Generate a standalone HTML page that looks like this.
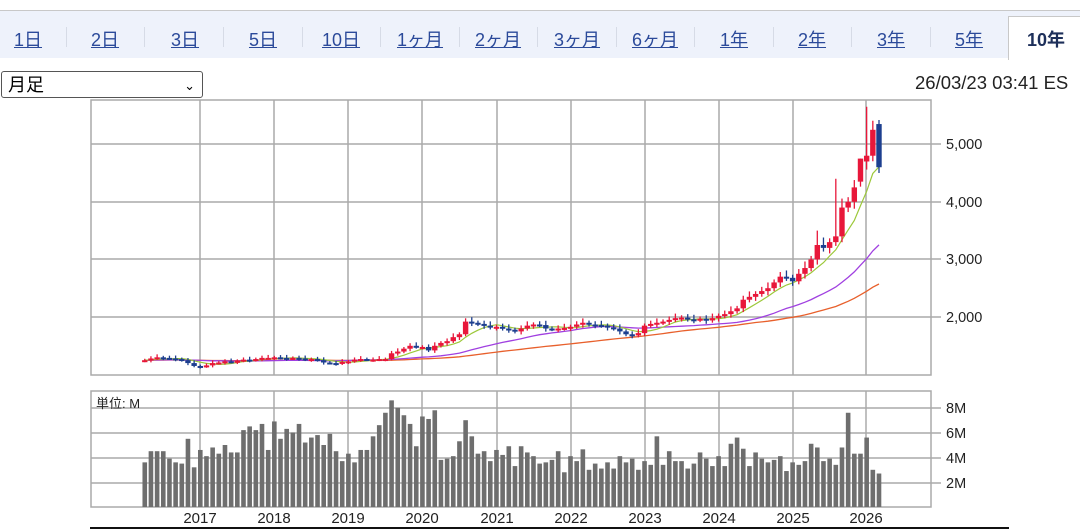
<!DOCTYPE html>
<html><head><meta charset="utf-8"><style>
body{margin:0;width:1080px;height:530px;overflow:hidden;background:#fff;font-family:"Liberation Sans","Noto Sans CJK JP",sans-serif;position:relative}
.bar{position:absolute;left:0;top:10px;width:1080px;height:47px;background:#eef2fb;border-top:1px solid #c8c8c8}
.t{position:absolute;top:15px;font-size:18px;color:#2b4a9a;text-decoration:underline;transform:translateX(-50%);white-space:nowrap}
.sep{position:absolute;top:16px;width:1px;height:20px;background:#d6dbe6}
.sel{position:absolute;left:1008px;top:5px;width:80px;height:43px;background:#fff;border:1px solid #c8c8c8;border-bottom:none}
.selbox{position:absolute;left:1px;top:71px;width:202px;height:27px;border:1px solid #555;border-radius:3px;font-size:18px;line-height:27px;padding-left:6px;box-sizing:border-box}
.date{position:absolute;left:915px;top:72px;font-size:18.5px;color:#222;white-space:nowrap}
svg{position:absolute;left:0;top:0}
</style></head><body>
<div class="bar">
<div class="sel"></div>
<div class="t" style="left:28px">1日</div><div class="t" style="left:105px">2日</div><div class="t" style="left:185px">3日</div><div class="t" style="left:263px">5日</div><div class="t" style="left:341px">10日</div><div class="t" style="left:420px">1ヶ月</div><div class="t" style="left:498px">2ヶ月</div><div class="t" style="left:577px">3ヶ月</div><div class="t" style="left:655px">6ヶ月</div><div class="t" style="left:734px">1年</div><div class="t" style="left:812px">2年</div><div class="t" style="left:891px">3年</div><div class="t" style="left:969px">5年</div>
<div class="t" style="left:1046px;text-decoration:none;font-weight:bold;color:#1d2f5a">10年</div>
<div class="sep" style="left:66px"></div><div class="sep" style="left:144px"></div><div class="sep" style="left:223px"></div><div class="sep" style="left:302px"></div><div class="sep" style="left:380px"></div><div class="sep" style="left:459px"></div><div class="sep" style="left:537px"></div><div class="sep" style="left:616px"></div><div class="sep" style="left:694px"></div><div class="sep" style="left:773px"></div><div class="sep" style="left:851px"></div><div class="sep" style="left:930px"></div>
</div>
<div class="selbox">月足<span style="position:absolute;right:7px;top:0;font-size:13px">&#8964;</span></div>
<div class="date">26/03/23 03:41 ES</div>
<svg id="s" width="1080" height="530" xmlns="http://www.w3.org/2000/svg" font-family="Liberation Sans, DejaVu Sans, sans-serif"></svg>
<script>
var s=document.getElementById('s'),h='';
var gx=[200,274,348,422,497,571,645,719,793,866],yrs=[2017,2018,2019,2020,2021,2022,2023,2024,2025,2026];
h+='<rect x="91" y="100" width="840" height="275" fill="none" stroke="#aaa" stroke-width="1.5"/>';
h+='<rect x="91" y="391" width="840" height="116" fill="none" stroke="#aaa" stroke-width="1.5"/>';
gx.forEach(function(x,i){h+='<line x1="'+x+'" y1="100" x2="'+x+'" y2="375" stroke="#aaa" stroke-width="1.5"/><line x1="'+x+'" y1="391" x2="'+x+'" y2="507" stroke="#aaa" stroke-width="1.5"/><text x="'+x+'" y="523" font-size="15" fill="#222" text-anchor="middle">'+yrs[i]+'</text>';});
[[144,'5,000'],[202,'4,000'],[259,'3,000'],[317,'2,000']].forEach(function(a){h+='<line x1="91" y1="'+a[0]+'" x2="941" y2="'+a[0]+'" stroke="#aaa" stroke-width="1.5"/><text x="946" y="'+(a[0]+5)+'" font-size="14.5" fill="#222">'+a[1]+'</text>';});
[[408,'8M'],[433,'6M'],[458,'4M'],[483,'2M']].forEach(function(a){h+='<line x1="91" y1="'+a[0]+'" x2="941" y2="'+a[0]+'" stroke="#aaa" stroke-width="1.5"/><text x="946" y="'+(a[0]+5)+'" font-size="14.5" fill="#222">'+a[1]+'</text>';});
h+='<text x="96" y="408" font-size="13" fill="#222">単位: M</text>';
h+='<line x1="90" y1="528" x2="1009" y2="528" stroke="#111" stroke-width="2"/>';
var c=[1250,1280,1300,1290,1280,1270,1250,1200,1150,
1140,1160,1200,1210,1230,1220,1240,1260,1250,1270,1290,1290,
1300,1290,1280,1290,1280,1260,1270,1250,1210,1200,1190,1220,
1230,1260,1270,1260,1260,1270,1270,1370,1400,1450,1500,1480,
1480,1420,1500,1550,1580,1650,1700,1920,1900,1880,1850,1820,
1830,1800,1780,1750,1800,1850,1870,1860,1800,1790,1800,1810,
1830,1870,1900,1870,1860,1850,1820,1800,1750,1700,1680,1720,
1850,1880,1900,1920,1950,1980,1990,1960,1950,1970,1940,1980,
2020,2050,2100,2150,2300,2350,2400,2450,2500,2600,2700,2680,
2620,2750,2850,3000,3250,3200,3300,3400,3900,4000,4250,4750,
4800,5250,4600];
var v=[3.6,4.5,4.5,4.5,3.9,3.6,3.5,5.5,3.2,4.6,4.1,4.8,4.3,5.0,4.4,4.4,6.2,6.5,6.2,6.7,4.6,6.9,5.5,6.3,6.0,6.7,5.2,5.6,5.8,5.0,5.9,4.5,3.7,4.3,3.6,4.6,4.6,5.7,6.6,7.6,8.6,8.0,7.4,6.7,4.9,7.3,7.1,7.8,3.8,3.9,4.1,5.3,7.0,5.7,4.3,4.5,3.7,4.6,4.2,4.9,3.3,4.9,4.4,4.1,3.5,3.6,3.8,4.5,2.8,4.1,3.7,
4.65,3.0,3.5,3.1,3.6,3.1,4.1,3.6,3.9,3.0,3.7,3.4,5.7,3.4,4.5,3.7,3.7,3.1,3.5,4.4,3.9,3.3,4.1,3.3,5.1,5.6,4.7,3.3,4.4,3.9,3.6,3.8,4.1,2.9,3.6,3.4,3.7,5.1,4.8,3.7,3.9,3.4,4.8,7.6,4.3,4.3,5.6,3.0,2.7];
while(v.length<120)v.splice(70,0,4.0);
function X(i){return 879-(119-i)*6.17;}
function Y(p){return 317-(p-2000)*0.0576;}
for(var i=0;i<120;i++){var x=X(i),bh=v[i]*12.4;h+='<rect x="'+(x-2.3)+'" y="'+(507-bh)+'" width="4.6" height="'+bh+'" fill="#6e6e6e"/>';}
function ma(n){var pts=[];for(var i=0;i<120;i++){var s2=0;for(var k=i-n+1;k<=i;k++)s2+=(k<0?1250:c[k]);pts.push(X(i).toFixed(1)+','+Y(s2/n).toFixed(1));}return pts.join(' ');}
h+='<polyline points="'+ma(48)+'" fill="none" stroke="#e8602c" stroke-width="1.3"/>';
h+='<polyline points="'+ma(24)+'" fill="none" stroke="#a040e0" stroke-width="1.3"/>';
h+='<polyline points="'+ma(6)+'" fill="none" stroke="#9cc83a" stroke-width="1.2"/>';
for(var i=0;i<120;i++){var o=i==0?1240:c[i-1],cl=c[i];
if(i==116)o=4350;if(i==117)o=4700;if(i==119)o=5350;
var up=cl>=o,col=up?'#e8173a':'#1d3f8f';
var hi=Math.max(o,cl)*(1.02+(i%3)*0.01),lo=Math.min(o,cl)*(0.98-(i%2)*0.01);
if(i==117)hi=5650;if(i==119){hi=5420;lo=4500;}if(i==116)hi=4750;if(i==112)hi=4400;if(i==109)hi=3500;
var x=X(i),y1=Y(Math.max(o,cl)),y2=Y(Math.min(o,cl));if(y2-y1<2){y2=y1+2;}
h+='<line x1="'+x+'" y1="'+Y(hi)+'" x2="'+x+'" y2="'+Y(lo)+'" stroke="'+col+'" stroke-width="1.3"/><rect x="'+(x-2.7)+'" y="'+y1+'" width="5.4" height="'+(y2-y1)+'" fill="'+col+'"/>';}
s.innerHTML=h;
</script>
</body></html>
